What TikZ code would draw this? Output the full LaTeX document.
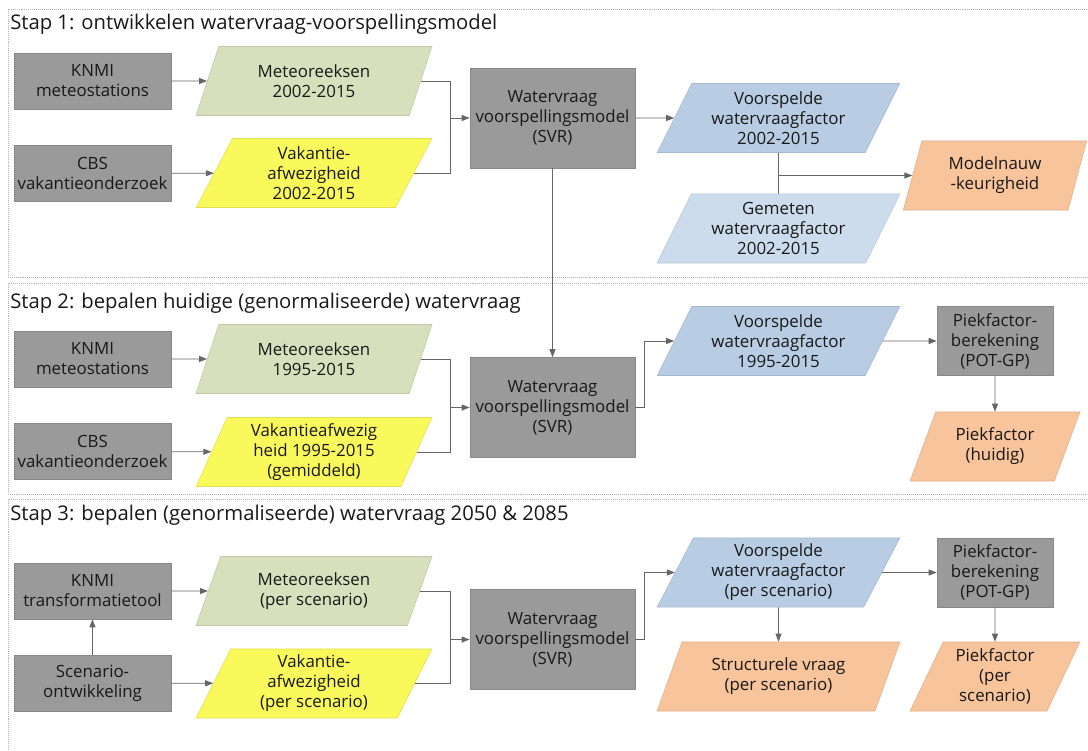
\documentclass[tikz,border=0pt]{standalone}
\usepackage{fontspec}
\setmainfont{Open Sans}
\usetikzlibrary{shapes.geometric, arrows.meta}
\definecolor{procgray}{HTML}{9A9A9A}
\definecolor{procedge}{HTML}{888888}
\definecolor{meteogreen}{HTML}{D7DFBC}
\definecolor{vakyellow}{HTML}{F9F95C}
\definecolor{predblue}{HTML}{B8CDE4}
\definecolor{measblue}{HTML}{CCDCEC}
\definecolor{resorange}{HTML}{F8C49B}
\definecolor{linkgray}{HTML}{666666}
\tikzset{
    proc/.style={rectangle, draw=procedge, fill=procgray, minimum width=3.925cm, minimum height=1.4cm, align=center, inner sep=1pt, font=\fontsize{12}{14.2}\selectfont, text=black!90},
    data/.style 2 args={trapezium, trapezium stretches=true, trapezium left angle=#1, trapezium right angle=#2, minimum height=1.725cm, align=center, inner sep=1pt, font=\fontsize{12}{14.2}\selectfont, text=black!90},
    link/.style={-{Triangle[length=2mm, width=1.5mm]}, linkgray, line width=0.6pt},
    wire/.style={linkgray, line width=0.6pt},
    frame/.style={draw=gray!60, densely dotted, line width=0.4pt},
    steptitle/.style={anchor=base west, inner sep=0pt, font=\fontsize{14.4}{17}\selectfont, text=black!90},
}
\begin{document}
\begin{tikzpicture}[x=0.025cm, y=-0.025cm]
\useasboundingbox (0,0) rectangle (1088,751);

% frames
\draw[frame] (8,9) rectangle (1100,277);
\draw[frame] (8,283) rectangle (1100,494);
\draw[frame] (8,499) rectangle (1100,770);

% ---- Stap 1 ----
\node[steptitle] (t1) at (10,29) {Stap 1: ontwikkelen watervraag-voorspellingsmodel};

\node[proc] (knmi1) at (92.5,81) {KNMI\\meteostations};
\node[proc] (cbs1) at (92.5,173.5) {CBS\\vakantieonderzoek};
\node[data={69}{111}, fill=meteogreen, draw=meteogreen!90!black, minimum width=5.9cm] (meteo1) at (314,81) {Meteoreeksen\\2002-2015};
\node[data={69}{111}, fill=vakyellow, draw=vakyellow!90!black, minimum width=5.9cm] (vak1) at (314,173) {Vakantie-\\afwezigheid\\2002-2015};
\node[proc, minimum width=4.125cm, minimum height=2.5cm] (svr1) at (552.5,118) {Watervraag\\voorspellingsmodel\\(SVR)};
\node[data={64}{116}, fill=predblue, draw=predblue!90!black, minimum width=6.075cm] (voor1) at (778.5,118) {Voorspelde\\watervraagfactor\\2002-2015};
\node[data={64}{116}, fill=measblue, draw=measblue!90!black, minimum width=6.075cm] (gem1) at (778.5,228.5) {Gemeten\\watervraagfactor\\2002-2015};
\node[data={73}{107}, fill=resorange, draw=resorange!90!black, minimum width=4.6cm] (model1) at (995,175.5) {Modelnauw\\-keurigheid};

\coordinate (j1) at (450,118);
\draw[link] (knmi1) -- (meteo1);
\draw[link] (cbs1) -- (vak1);
\draw[wire] (meteo1.east) -| (j1);
\draw[wire] (vak1.east) -| (j1);
\draw[link] (j1) -- (svr1);
\draw[link] (svr1) -- (voor1);
\draw[wire] (voor1.south) -- (gem1.north);
\draw[link] (voor1.south |- model1.west) -- (model1.west);

% ---- Stap 2 ----
\node[steptitle] (t2) at (10,308) {Stap 2: bepalen huidige (genormaliseerde) watervraag};

\node[proc] (knmi2) at (92.5,359) {KNMI\\meteostations};
\node[proc] (cbs2) at (92.5,451.5) {CBS\\vakantieonderzoek};
\node[data={69}{111}, fill=meteogreen, draw=meteogreen!90!black, minimum width=5.9cm] (meteo2) at (314,359) {Meteoreeksen\\1995-2015};
\node[data={69}{111}, fill=vakyellow, draw=vakyellow!90!black, minimum width=5.9cm] (vak2) at (314,452) {Vakantieafwezig\\heid 1995-2015\\(gemiddeld)};
\node[proc, minimum width=4.125cm, minimum height=2.5cm] (svr2) at (552.5,407.5) {Watervraag\\voorspellingsmodel\\(SVR)};
\node[data={64}{116}, fill=predblue, draw=predblue!90!black, minimum width=6.075cm] (voor2) at (778.5,341) {Voorspelde\\watervraagfactor\\1995-2015};
\node[proc, minimum width=2.9cm, minimum height=1.725cm] (piek2) at (995,341) {Piekfactor-\\berekening\\(POT-GP)};
\node[data={66}{114}, fill=resorange, draw=resorange!90!black, minimum width=4.25cm] (piekf2) at (995,446.5) {Piekfactor\\(huidig)};

\coordinate (j2) at (450,407.5);
\draw[link] (svr1) -- (svr2);
\draw[link] (knmi2) -- (meteo2);
\draw[link] (cbs2) -- (vak2);
\draw[wire] (meteo2.east) -| (j2);
\draw[wire] (vak2.east) -| (j2);
\draw[link] (j2) -- (svr2);
\draw[link] (svr2.east) -- ++(9,0) |- (voor2.west);
\draw[link] (voor2) -- (piek2);
\draw[link] (piek2) -- (piekf2);

% ---- Stap 3 ----
\node[steptitle] (t3) at (10,520) {Stap 3: bepalen (genormaliseerde) watervraag 2050 \& 2085};

\node[proc] (knmi3) at (92.5,591) {KNMI\\transformatietool};
\node[proc] (scen3) at (92.5,683) {Scenario-\\ontwikkeling};
\node[data={69}{111}, fill=meteogreen, draw=meteogreen!90!black, minimum width=5.9cm] (meteo3) at (314,591) {Meteoreeksen\\(per scenario)};
\node[data={69}{111}, fill=vakyellow, draw=vakyellow!90!black, minimum width=5.9cm] (vak3) at (314,683.5) {Vakantie-\\afwezigheid\\(per scenario)};
\node[proc, minimum width=4.125cm, minimum height=2.5cm] (svr3) at (552.5,639.5) {Watervraag\\voorspellingsmodel\\(SVR)};
\node[data={64}{116}, fill=predblue, draw=predblue!90!black, minimum width=6.075cm] (voor3) at (778.5,572.5) {Voorspelde\\watervraagfactor\\(per scenario)};
\node[data={66}{114}, fill=resorange, draw=resorange!90!black, minimum width=6.075cm] (struc3) at (778.5,676.5) {Structurele vraag\\(per scenario)};
\node[proc, minimum width=2.9cm, minimum height=1.725cm] (piek3) at (995,572.5) {Piekfactor-\\berekening\\(POT-GP)};
\node[data={66}{114}, fill=resorange, draw=resorange!90!black, minimum width=4.25cm] (piekf3) at (995,676.5) {Piekfactor\\(per\\scenario)};

\coordinate (j3) at (450,639.5);
\draw[link] (scen3) -- (knmi3);
\draw[link] (knmi3) -- (meteo3);
\draw[link] (scen3) -- (vak3);
\draw[wire] (meteo3.east) -| (j3);
\draw[wire] (vak3.east) -| (j3);
\draw[link] (j3) -- (svr3);
\draw[link] (svr3.east) -- ++(9,0) |- (voor3.west);
\draw[link] (voor3) -- (piek3);
\draw[link] (voor3) -- (struc3);
\draw[link] (piek3) -- (piekf3);

\end{tikzpicture}
\end{document}
